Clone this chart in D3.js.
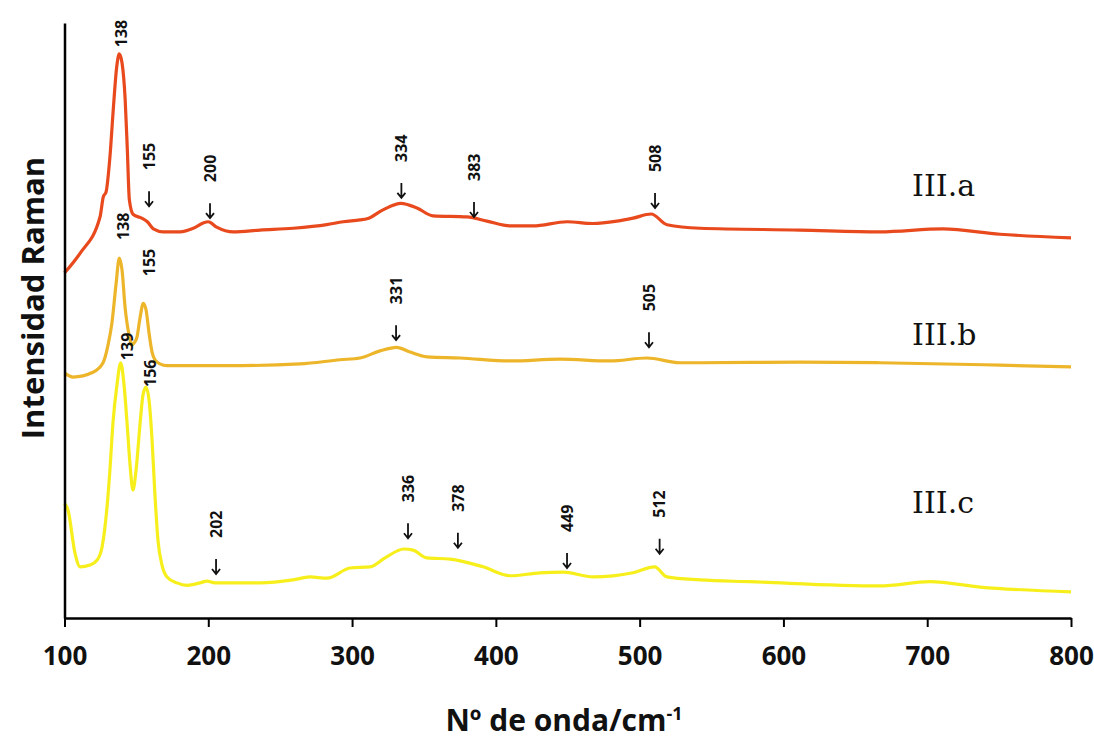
<!DOCTYPE html>
<html lang="es">
<head>
  <meta charset="UTF-8">
  <title>Espectros Raman III.a - III.c</title>
  <style>
    body { margin: 0; background: #fff; }
    svg { display: block; }
  </style>
</head>
<body>
  <div id="chart"></div>

  <script src="https://d3js.org/d3.v7.min.js"></script>
  <script>
    const SVGWIDTH = 1094;
    const SVGHEIGHT = 742;
    const margin = {top: 23, right: 23, bottom: 124, left: 64.5};
    const innerWidth = SVGWIDTH - margin.left - margin.right;
    const innerHeight = SVGHEIGHT - margin.top - margin.bottom;

    // x ticks (wavenumber, cm-1)
    const xTicks = [100, 200, 300, 400, 500, 600, 700, 800];

    // III.a spectrum: wavenumber / intensity (a.u., stacked)
    const waveA = [100, 110.8, 124.7, 127, 128.9, 131.6, 133.9, 136.3, 138.1, 140, 142.2, 143.7, 145.1, 147.8,
      153.7, 157.6, 161.8, 168.7, 180.3, 189.6, 196.5, 200, 205.8, 217.4, 236, 259.1, 282.4, 293.9, 305.5,
      310.4, 321.5, 334, 345.1, 356.3, 379.9, 393.8, 409.8, 425.8, 449.5, 467.5, 484.2, 495.4, 508, 519,
      541.9, 611.5, 667.1, 710.9, 750.6, 800];
    const intA = [58.0, 61.3, 67.4, 70.8, 71.6, 77.5, 85.4, 92.6, 94.8, 93.3, 87.1, 78.7, 70.3, 67.8,
      67.2, 66.6, 65.4, 64.9, 64.9, 65.5, 66.4, 66.6, 65.7, 64.9, 65.2, 65.5, 66.1, 66.6, 66.9,
      67.1, 68.6, 69.7, 68.9, 67.6, 67.4, 66.7, 65.9, 65.9, 66.6, 66.3, 66.7, 67.2, 67.9, 66.1,
      65.5, 65.2, 64.9, 65.4, 64.5, 63.9];

    // III.b spectrum
    const waveB = [100, 105.9, 119.8, 126.8, 130.3, 133, 135.8, 138.1, 140, 142.1, 144.9, 147, 148.3, 150.4,
      152.5, 154.8, 156.7, 158.8, 160.9, 162.9, 166.4, 171.3, 213, 263.8, 291.6, 305.5, 319.4, 331,
      340.3, 352.1, 375.1, 409.8, 444.6, 479.4, 505, 528.1, 542, 611.5, 667.1, 750.6, 800];
    const intB = [41.2, 40.5, 41.3, 42.9, 45.9, 49.6, 56.0, 60.5, 58.5, 52.3, 47.6, 45.9, 46.2, 47.2,
      50.4, 52.9, 51.8, 47.9, 44.7, 43.4, 42.7, 42.4, 42.4, 42.7, 43.4, 43.7, 44.9, 45.5,
      44.7, 43.9, 43.7, 43.2, 43.5, 43.2, 43.7, 42.9, 42.9, 43.0, 42.9, 42.5, 42.2];

    // III.c spectrum
    const waveC = [100, 102.4, 107.3, 110.8, 117.7, 122.6, 126.1, 129.6, 131.6, 133.7, 136.5, 139.1, 141.4,
      143.5, 145.6, 147.6, 149.8, 152.6, 154.6, 156.7, 158.8, 160.9, 162.9, 165, 167.8, 171.3, 178.2,
      185.2, 194.2, 199.1, 204.7, 213, 236, 258.9, 270.7, 282.6, 298.6, 312.5, 322.9, 336, 342.4,
      352.1, 368.1, 391.1, 409.8, 430.7, 446.7, 467.6, 495.4, 510.5, 519, 542, 576.7, 667.1, 701.9,
      736.7, 800];
    const intC = [19.3, 18.2, 10.9, 8.6, 8.9, 9.7, 11.9, 18.7, 24.9, 32.8, 39.2, 42.9, 39.2,
      32.8, 25.7, 21.5, 24.9, 32.8, 37.5, 38.8, 36.6, 29.9, 20.7, 13.1, 8.9, 6.9, 5.9,
      5.5, 5.9, 6.2, 5.9, 5.9, 5.9, 6.4, 6.9, 6.7, 8.4, 8.6, 10.1, 11.6, 11.4,
      10.1, 9.9, 8.6, 7.1, 7.6, 7.7, 6.9, 7.6, 8.6, 6.9, 6.4, 6.1, 5.4, 6.1,
      5.2, 4.4];

    // peak labels: text, wavenumber where it sits, intensity of label foot / arrow tip, arrow?
    const peakTextA = ['138', '155', '200', '334', '383', '508'];
    const peakAtA = [139.3, 158.8, 201.2, 334.3, 384.8, 510.7];
    const peakTipA = [95.6, 69.2, 67.2, 70.6, 67.4, 68.9];
    const peakArrowA = [false, true, true, true, true, true];

    const peakTextB = ['138', '155', '331', '505'];
    const peakAtB = [140.7, 158.8, 330.6, 506.5];
    const peakTipB = [63.2, 57.1, 46.7, 45.5];
    const peakArrowB = [false, false, true, true];

    const peakTextC = ['139', '156', '202', '336', '378', '449', '512'];
    const peakAtC = [143.5, 159.5, 205.4, 338.9, 373.6, 449.5, 513.9];
    const peakTipC = [43.0, 38.5, 7.4, 13.4, 11.8, 8.4, 10.8];
    const peakArrowC = [false, false, true, true, true, true, true];

    const seriesNames = ['III.a', 'III.b', 'III.c'];
    const seriesColors = ['#e8491d', '#edb52a', '#f7ef1c'];
    const seriesLabelY = [70.9, 45.9, 17.6]; // label baseline, intensity units
    const seriesLabelX = 689.5;

    const series = [
      {name: seriesNames[0], color: seriesColors[0],
       values: waveA.map((w, i) => ({x: w, y: intA[i]})),
       peaks: peakTextA.map((t, i) => ({text: t, x: peakAtA[i], tip: peakTipA[i], arrow: peakArrowA[i]}))},
      {name: seriesNames[1], color: seriesColors[1],
       values: waveB.map((w, i) => ({x: w, y: intB[i]})),
       peaks: peakTextB.map((t, i) => ({text: t, x: peakAtB[i], tip: peakTipB[i], arrow: peakArrowB[i]}))},
      {name: seriesNames[2], color: seriesColors[2],
       values: waveC.map((w, i) => ({x: w, y: intC[i]})),
       peaks: peakTextC.map((t, i) => ({text: t, x: peakAtC[i], tip: peakTipC[i], arrow: peakArrowC[i]}))}
    ];

    const xScale = d3.scaleLinear().domain([100, 800]).range([0, innerWidth]);
    const yScale = d3.scaleLinear().domain([0, 100]).range([innerHeight, 0]);

    const svg = d3.select('#chart')
      .append('svg')
      .attr('width', SVGWIDTH)
      .attr('height', SVGHEIGHT);

    const mainCont = svg.append('g')
      .attr('transform', `translate(${margin.left},${margin.top})`);

    // spectra
    const line = d3.line()
      .x(d => xScale(d.x))
      .y(d => yScale(d.y))
      .curve(d3.curveMonotoneX);

    mainCont.selectAll('path.spectrum')
      .data(series)
      .enter()
      .append('path')
      .attr('class', 'spectrum')
      .attr('fill', 'none')
      .attr('stroke', d => d.color)
      .attr('stroke-width', 3.2)
      .attr('stroke-linejoin', 'round')
      .attr('d', d => line(d.values));

    // peak labels and arrows
    const ARROW_LEN = 15;
    const TEXT_GAP = 36; // from arrow tip to start of the label
    const peaks = series.flatMap(s => s.peaks);

    const peakG = mainCont.selectAll('g.peak')
      .data(peaks)
      .enter()
      .append('g')
      .attr('class', 'peak')
      .attr('transform', d => `translate(${xScale(d.x)},${yScale(d.tip)})`);

    peakG.append('text')
      .attr('transform', d => `translate(0,${d.arrow ? -TEXT_GAP : -2}) rotate(-90)`)
      .attr('dy', '0.35em')
      .attr('font-family', '"Open Sans", sans-serif')
      .attr('font-weight', 700)
      .attr('font-size', 16)
      .attr('fill', '#111')
      .text(d => d.text);

    peakG.filter(d => d.arrow)
      .append('path')
      .attr('d', `M0,${-ARROW_LEN}L0,0M-4,-5L0,0L4,-5`)
      .attr('fill', 'none')
      .attr('stroke', '#111')
      .attr('stroke-width', 1.8);

    // series names
    mainCont.selectAll('text.series')
      .data(series)
      .enter()
      .append('text')
      .attr('class', 'series')
      .attr('x', xScale(seriesLabelX))
      .attr('y', (d, i) => yScale(seriesLabelY[i]))
      .attr('font-family', '"DejaVu Serif", serif')
      .attr('font-size', 30)
      .attr('fill', '#111')
      .text(d => d.name);

    // axes
    const xAxis = d3.axisBottom(xScale)
      .tickValues(xTicks)
      .tickSize(9)
      .tickSizeOuter(0)
      .tickFormat(d3.format('d'));
    const yAxis = d3.axisLeft(yScale).tickValues([]).tickSizeOuter(0);

    const bottomAxisCont = mainCont.append('g')
      .attr('transform', `translate(0,${innerHeight})`)
      .call(xAxis);
    bottomAxisCont.select('.domain').attr('stroke-width', 2.5);
    bottomAxisCont.selectAll('.tick line').attr('stroke-width', 2);
    bottomAxisCont.selectAll('.tick text')
      .attr('y', 47)
      .attr('dy', 0)
      .attr('font-family', '"Open Sans", sans-serif')
      .attr('font-weight', 700)
      .attr('font-size', 26)
      .attr('fill', '#111');

    const leftAxisCont = mainCont.append('g').call(yAxis);
    leftAxisCont.select('.domain').attr('stroke-width', 2.5);

    // axis titles
    const xTitle = svg.append('text')
      .attr('x', 564)
      .attr('y', 731)
      .attr('text-anchor', 'middle')
      .attr('font-family', '"Open Sans", sans-serif')
      .attr('font-weight', 700)
      .attr('font-size', 30)
      .attr('fill', '#111');
    xTitle.append('tspan').text('Nº de onda/cm');
    xTitle.append('tspan')
      .attr('dy', -11)
      .attr('font-size', 18)
      .text('-1');

    svg.append('text')
      .attr('transform', 'translate(44,298) rotate(-90)')
      .attr('text-anchor', 'middle')
      .attr('font-family', '"Open Sans", sans-serif')
      .attr('font-weight', 700)
      .attr('font-size', 31)
      .attr('fill', '#111')
      .text('Intensidad Raman');
  </script>
</body>
</html>
